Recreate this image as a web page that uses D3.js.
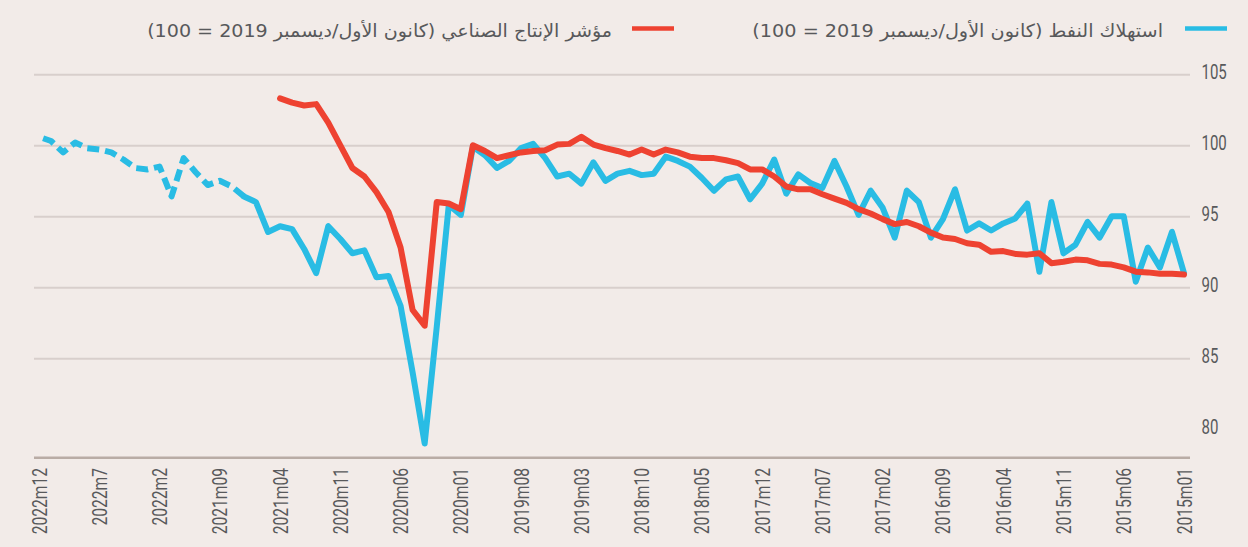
<!DOCTYPE html>
<html>
<head>
<meta charset="UTF-8">
<title>oil</title>
<style>
body{
  margin: 0;
  background: #f2ebe8;
}
svg{
  display: block;
}
</style>
</head>
<body>
<div class="container"></div>
<script src="https://cdn.jsdelivr.net/npm/d3@7"></script>
<script type="text/javascript">
// monthly, 2015m01 .. 2022m12
var oilValues = [
  91.0, 93.9, 91.4, 92.8, 90.4, 95.0, 95.0, 93.5, 94.6, 93.0,
  92.4, 96.0, 91.1, 95.9, 94.85, 94.5, 94.0, 94.5, 94.0, 96.9,
  94.8, 93.5, 96.0, 96.8, 93.5, 95.6, 96.8, 95.1, 97.1, 98.9,
  97.0, 97.35, 97.95, 96.6, 99.0, 97.3, 96.2, 97.8, 97.6, 96.8,
  97.7, 98.5, 98.9, 99.2, 98.0, 97.9, 98.2, 98.0, 97.5, 98.8,
  97.3, 98.0, 97.8, 99.1, 100.1, 99.8, 98.9, 98.4, 99.3, 99.9,
  95.1, 95.8, 87.2, 79.0, 84.0, 88.7, 90.8, 90.7, 92.6, 92.4,
  93.4, 94.3, 91.0, 92.7, 94.1, 94.3, 93.9, 96.0, 96.4, 97.1,
  97.5, 97.2, 98.1, 99.1, 96.4, 98.5, 98.3, 98.4, 99.0, 99.5,
  99.7, 99.8, 100.2, 99.5, 100.3, 100.6
];
// monthly, 2015m01 .. 2021m04
var indValues = [
  90.9, 90.95, 90.95, 91.05, 91.1, 91.4, 91.6, 91.65, 91.9, 91.95,
  91.8, 91.7, 92.4, 92.3, 92.35, 92.55, 92.5, 93.0, 93.1, 93.4,
  93.5, 93.85, 94.3, 94.6, 94.45, 94.8, 95.2, 95.5, 95.95, 96.25,
  96.55, 96.9, 96.9, 97.1, 97.8, 98.3, 98.3, 98.75, 98.95, 99.1,
  99.1, 99.2, 99.5, 99.7, 99.35, 99.7, 99.35, 99.6, 99.8, 100.05,
  100.6, 100.1, 100.05, 99.65, 99.6, 99.5, 99.3, 99.1, 99.6, 100.0,
  95.5, 95.9, 96.0, 87.3, 88.4, 92.8, 95.3, 96.7, 97.8, 98.4,
  100.0, 101.6, 102.9, 102.8, 103.0, 103.3
];
var tickLabels = ['2015m01','2015m06','2015m11','2016m04','2016m09','2017m02','2017m07','2017m12',
  '2018m05','2018m10','2019m03','2019m08','2020m01','2020m06','2020m11','2021m04','2021m09',
  '2022m2','2022m7','2022m12'];
var yTicks = [80, 85, 90, 95, 100, 105];
var dashFrom = 78; // oil line dashed from here on
var legendNames = [
  'استهلاك النفط (كانون الأول/ديسمبر 2019 = 100)',
  'مؤشر الإنتاج الصناعي (كانون الأول/ديسمبر 2019 = 100)'
];

var width = 1248, height = 547;
var blue = '#29bce4', red = '#ee4231', grey = '#58595b';

var svg = d3.select('.container').append('svg')
  .attr('width', width)
  .attr('height', height);

svg.append('rect').attr('width', width).attr('height', height).attr('fill', '#f2ebe8');

var x = d3.scaleLinear().domain([0, oilValues.length - 1]).range([1184, 39]);
var y = d3.scaleLinear().domain([78, 105]).range([457.7, 74.3]);

// grid + y labels
var yAxis = svg.append('g')
  .attr('transform', 'translate(1190,0)')
  .call(d3.axisRight(y).tickValues(yTicks).tickSize(-1156).tickFormat(d3.format('d')));
yAxis.select('.domain').remove();
yAxis.selectAll('.tick line')
  .attr('stroke', '#d8cfcc')
  .attr('stroke-width', 2)
  .attr('opacity', function(d){ return d === 80 ? 0 : 1; });
yAxis.selectAll('.tick text')
  .attr('x', 0).attr('dy', null)
  .attr('text-anchor', 'start')
  .attr('transform', 'translate(11.5,4.5) scale(0.77,1)')
  .attr('fill', grey)
  .style('font-family', 'Roboto, sans-serif')
  .style('font-size', '19.5px');

// x axis
var xAxis = svg.append('g')
  .attr('transform', 'translate(0,458)')
  .call(d3.axisBottom(x)
    .tickValues(d3.range(0, oilValues.length, 5))
    .tickSize(0)
    .tickFormat(function(d){ return tickLabels[d / 5]; }));
xAxis.select('.domain').remove();
xAxis.selectAll('.tick text')
  .attr('x', 0).attr('y', 0).attr('dy', '0.36em')
  .attr('text-anchor', 'end')
  .attr('transform', 'translate(0,10) rotate(-90) scale(0.8,1)')
  .attr('fill', grey)
  .style('font-family', 'Roboto, sans-serif')
  .style('font-size', '19.5px');

svg.append('line')
  .attr('x1', 34).attr('x2', 1190)
  .attr('y1', 457.7).attr('y2', 457.7)
  .attr('stroke', '#b9aca5')
  .attr('stroke-width', 2.5);

// lines
var line = d3.line()
  .x(function(d){ return x(d.i); })
  .y(function(d){ return y(d.v); });

var oil = oilValues.map(function(v, i){ return {i: i, v: v}; });
var ind = indValues.map(function(v, i){ return {i: i, v: v}; });

svg.append('path')
  .attr('d', line(oil.slice(0, dashFrom + 1)))
  .attr('fill', 'none')
  .attr('stroke', blue)
  .attr('stroke-width', 6)
  .attr('stroke-linejoin', 'round')
  .attr('stroke-linecap', 'round');

svg.append('path')
  .attr('d', line(oil.slice(dashFrom)))
  .attr('fill', 'none')
  .attr('stroke', blue)
  .attr('stroke-width', 6)
  .attr('stroke-linejoin', 'round')
  .attr('stroke-dasharray', '12,6');

svg.append('path')
  .attr('d', line(ind))
  .attr('fill', 'none')
  .attr('stroke', red)
  .attr('stroke-width', 6)
  .attr('stroke-linejoin', 'round')
  .attr('stroke-linecap', 'round');

// legend
var legend = [
  {name: legendNames[0], color: blue, sx: 1185, right: 1163, left: 752},
  {name: legendNames[1], color: red, sx: 632, right: 612, left: 147}
];
legend.forEach(function(l){
  svg.append('line')
    .attr('x1', l.sx).attr('x2', l.sx + 42)
    .attr('y1', 28.5).attr('y2', 28.5)
    .attr('stroke', l.color)
    .attr('stroke-width', 4.5);
  var g = svg.append('g');
  var t = g.append('text')
    .attr('direction', 'rtl')
    .attr('x', 0).attr('y', 0)
    .attr('fill', grey)
    .style('font-family', '"DejaVu Sans", sans-serif')
    .style('font-size', '18px')
    .text(l.name);
  var b = t.node().getBBox();
  var s = (l.right - l.left) / b.width;
  g.attr('transform', 'translate(' + l.right + ',36.5) scale(' + s + ',1) translate(' + (-(b.x + b.width)) + ',0)');
});
</script>
</body>
</html>
